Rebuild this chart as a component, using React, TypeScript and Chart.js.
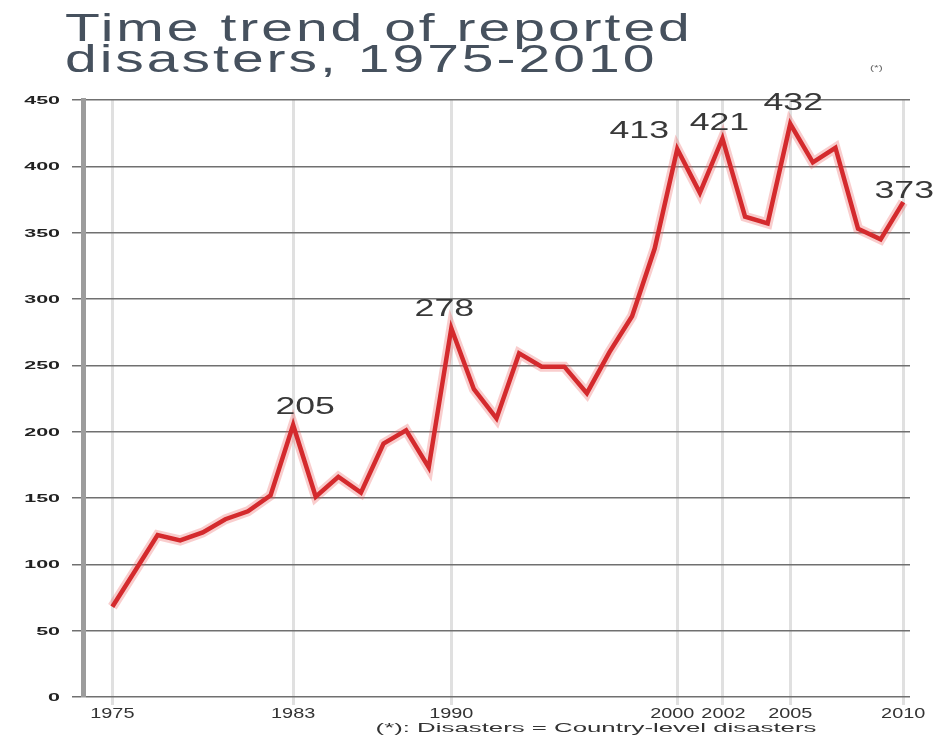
import React, { useEffect, useRef } from "react";
import { Chart, registerables } from "chart.js";

Chart.register(...registerables);

const years: number[] = [
  1975, 1976, 1977, 1978, 1979, 1980, 1981, 1982, 1983, 1984, 1985, 1986,
  1987, 1988, 1989, 1990, 1991, 1992, 1993, 1994, 1995, 1996, 1997, 1998,
  1999, 2000, 2001, 2002, 2003, 2004, 2005, 2006, 2007, 2008, 2009, 2010,
];
const disasters: number[] = [
  68, 95, 122, 118, 124, 134, 140, 152, 205, 151, 166, 154,
  191, 201, 173, 278, 232, 210, 259, 249, 249, 229, 260, 287,
  338, 413, 380, 421, 362, 357, 432, 403, 414, 353, 345, 373,
];
const xTickYears: number[] = [1975, 1983, 1990, 2000, 2002, 2005, 2010];
const yTicks: number[] = [0, 50, 100, 150, 200, 250, 300, 350, 400, 450];
const labelledYears: number[] = [1983, 1990, 2000, 2002, 2005, 2010];
const titleLines: string[] = ["Time trend of reported", "disasters, 1975-2010"];
const footnote = "(*): Disasters = Country-level disasters";
const asterisk = "(*)";

function stretchText(
  ctx: CanvasRenderingContext2D,
  text: string,
  x: number,
  y: number,
  font: string,
  color: string,
  sx: number,
  align: CanvasTextAlign,
  baseline: CanvasTextBaseline = "alphabetic",
  spacing = 0
) {
  ctx.save();
  ctx.translate(x, y);
  ctx.scale(sx, 1);
  ctx.font = font;
  ctx.fillStyle = color;
  ctx.textAlign = align;
  ctx.textBaseline = baseline;
  (ctx as any).letterSpacing = spacing + "px";
  ctx.fillText(text, 0, 0);
  ctx.restore();
}

const labelOffsets: [number, number][] = [
  [12, -11],
  [-7, -12],
  [-38, -11],
  [-3, -8],
  [3, -14],
  [1, -4],
];
const xLabelShift: Record<number, number> = { 2000: -5, 2002: 1 };

const overlayPlugin = {
  id: "overlay",
  afterDraw(chart: any) {
    const ctx: CanvasRenderingContext2D = chart.ctx;
    const xs = chart.scales.x;
    const ys = chart.scales.y;
    const ff = "'Liberation Sans', Arial, sans-serif";

    // Title
    stretchText(ctx, titleLines[0], 65, 41, `38px ${ff}`, "#46515e", 1.5, "left", "alphabetic", 2);
    stretchText(ctx, titleLines[1], 65, 72, `38px ${ff}`, "#46515e", 1.5, "left", "alphabetic", 2);
    stretchText(ctx, asterisk, 870, 70, `8px ${ff}`, "#666", 1.5, "left");

    // Y tick labels
    yTicks.forEach((v) => {
      const py = ys.getPixelForValue(v);
      stretchText(ctx, String(v), 60, py + 1, `bold 11px ${ff}`, "#222", 1.95, "right", "middle");
    });

    // X tick labels
    xTickYears.forEach((yr) => {
      const px = xs.getPixelForValue(yr) + (xLabelShift[yr] || 0);
      stretchText(ctx, String(yr), px, 718, `14px ${ff}`, "#333", 1.42, "center");
    });

    // Footnote
    stretchText(ctx, footnote, 596, 732, `12px ${ff}`, "#333", 2.15, "center");

    // Value labels
    labelledYears.forEach((yr, i) => {
      const idx = years.indexOf(yr);
      const v = disasters[idx];
      const px = xs.getPixelForValue(yr) + labelOffsets[i][0];
      const py = ys.getPixelForValue(v) + labelOffsets[i][1];
      stretchText(ctx, String(v), px, py, `23px ${ff}`, "#383838", 1.55, "center");
    });
  },
};

export default function App() {
  const ref = useRef<HTMLCanvasElement | null>(null);

  useEffect(() => {
    if (!ref.current) return;
    const pts = years.map((yr, i) => ({ x: yr, y: disasters[i] }));
    const chart = new Chart(ref.current, {
      type: "line",
      data: {
        datasets: [
          {
            label: "Disasters",
            data: pts,
            borderColor: "#d42a2d",
            borderWidth: 4.5,
            pointRadius: 0,
            tension: 0,
            borderJoinStyle: "miter",
          },
          {
            label: "glow",
            data: pts,
            borderColor: "rgba(235,90,90,0.3)",
            borderWidth: 10,
            pointRadius: 0,
            tension: 0,
          },
        ],
      },
      options: {
        responsive: false,
        animation: false,
        layout: { padding: { top: 100, right: 30, left: 0, bottom: 0 } },
        plugins: {
          legend: { display: false },
          title: { display: false },
          tooltip: { enabled: false },
        },
        scales: {
          x: {
            type: "linear",
            min: 1973.7,
            max: 2010.3,
            afterBuildTicks: (s: any) => {
              s.ticks = xTickYears.map((v) => ({ value: v }));
            },
            afterFit: (s: any) => {
              s.height = 38;
            },
            ticks: { display: false },
            grid: { color: "#e0e0e0", lineWidth: 3, tickLength: 8, drawTicks: true },
            border: { display: false },
          },
          y: {
            min: 0,
            max: 450,
            afterBuildTicks: (s: any) => {
              s.ticks = yTicks.map((v) => ({ value: v }));
            },
            afterFit: (s: any) => {
              s.width = 83;
            },
            ticks: { display: false },
            grid: { color: "#707070", lineWidth: 1.5, tickLength: 11, drawTicks: true },
            border: { color: "#9c9c9c", width: 5 },
          },
        },
      } as any,
      plugins: [overlayPlugin],
    });
    return () => chart.destroy();
  }, []);

  return (
    <div style={{ position: "absolute", left: 0, top: 0, width: 940, height: 735, background: "#fff" }}>
      <canvas ref={ref} width={940} height={735} />
    </div>
  );
}
